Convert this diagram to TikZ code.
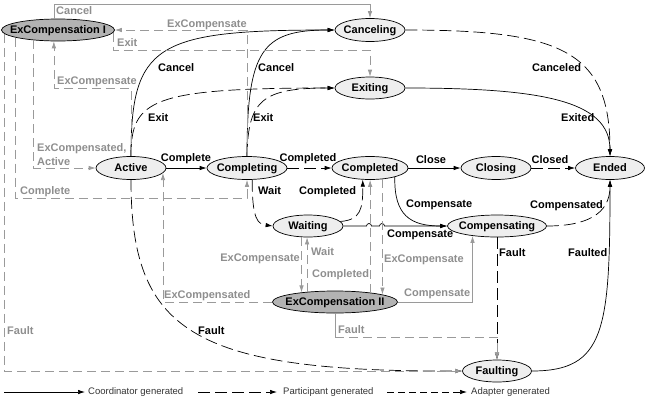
\documentclass[tikz,border=0pt]{standalone}
\usepackage{fontspec}
\setmainfont{Liberation Sans}
\usetikzlibrary{arrows.meta,shapes.geometric}
\definecolor{gr}{HTML}{9A9A9A}
\definecolor{grtext}{HTML}{8E8E8E}
\definecolor{stfill}{HTML}{EEEEEE}
\definecolor{exfill}{HTML}{B3B3B3}
\definecolor{legtext}{HTML}{333333}
\newcommand{\stxt}[1]{\makebox[0pt]{#1}}
\begin{document}
\begin{tikzpicture}[x=1pt,y=-1pt,
 state/.style={ellipse, draw=black, line width=0.7pt, fill=stfill, inner sep=0pt,
   minimum height=23pt, text height=8pt, text depth=2pt, font=\bfseries\fontsize{11}{13}\selectfont},
 exstate/.style={state, fill=exfill},
 lbl/.style={font=\bfseries\fontsize{11}{13}\selectfont, inner sep=0pt, text height=8pt, text depth=2pt},
 glbl/.style={lbl, text=grtext},
 leg/.style={font=\fontsize{9.5}{11}\selectfont, inner sep=0pt, text=legtext, anchor=west},
 coord/.style={line width=0.7pt, -{Latex[length=7pt,width=4.5pt]}},
 part/.style={coord, dash pattern=on 12pt off 5pt},
 adapt/.style={coord, dash pattern=on 7pt off 4pt},
 gline/.style={draw=gr, line width=0.7pt},
 garrow/.style={gline, -{Latex[length=7pt,width=4.5pt]}, gr},
 gdash/.style={dash pattern=on 9pt off 5pt},
]
\useasboundingbox (0,0) rectangle (647,402);

% states
\node[exstate, minimum width=113pt, minimum height=22pt] (exI) at (58,30) {\stxt{ExCompensation I}};
\node[state, minimum width=70pt] (canceling) at (370,30) {\stxt{Canceling}};
\node[state, minimum width=70pt, minimum height=22pt] (exiting) at (370,88) {\stxt{Exiting}};
\node[state, minimum width=70pt] (active) at (131,168) {\stxt{Active}};
\node[state, minimum width=80pt] (completing) at (247,168) {\stxt{Completing}};
\node[state, minimum width=76pt] (completed) at (370,168) {\stxt{Completed}};
\node[state, minimum width=70pt] (closing) at (496,168) {\stxt{Closing}};
\node[state, minimum width=69pt] (ended) at (610,168) {\stxt{Ended}};
\node[state, minimum width=70pt, minimum height=22pt] (waiting) at (308,226) {\stxt{Waiting}};
\node[state, minimum width=99pt, minimum height=22pt] (compensating) at (497,226) {\stxt{Compensating}};
\node[exstate, minimum width=125pt, minimum height=22pt] (exII) at (335,302) {\stxt{ExCompensation II}};
\node[state, minimum width=69pt, minimum height=22pt] (faulting) at (497,371) {\stxt{Faulting}};

% coordinator / participant transitions
\draw[coord] (active.east) -- (completing.west);
\node[lbl] (lcomplete) at (186,158) {Complete};
\draw[part] (completing.east) -- (completed.west);
\node[lbl] (lcompleted) at (308,158) {Completed};
\draw[coord] (completed.east) -- (closing.west);
\node[lbl] (lclose) at (431,160) {Close};
\draw[part] (closing.east) -- (ended.west);
\node[lbl] (lclosed) at (550,160) {Closed};

\draw[coord] (active.north) .. controls (131,45) and (155,30) .. (canceling.west);
\node[lbl, anchor=west] (lcancel1) at (158,68) {Cancel};
\draw[coord] (completing.north) .. controls (247,50) and (262,30) .. (canceling.west);
\node[lbl, anchor=west] (lcancel2) at (258,68) {Cancel};
\draw[part] (active.north) .. controls (131,100) and (150,88) .. (exiting.west);
\node[lbl, anchor=west] (lexit1) at (148,118) {Exit};
\draw[part] (completing.north) .. controls (248,100) and (262,88) .. (exiting.west);
\node[lbl, anchor=west] (lexit2) at (253,118) {Exit};
\draw[part] (canceling.east) .. controls (560,30) and (610,50) .. (ended.north);
\node[lbl, anchor=west] (lcanceled) at (532,68) {Canceled};
\draw[coord] (exiting.east) .. controls (540,88) and (610,100) .. (ended.north);
\node[lbl, anchor=west] (lexited) at (561,118) {Exited};

\draw[part] (completing.-66) .. controls (252,220) and (258,224) .. (waiting.west);
\node[lbl, anchor=west] (lwait) at (258,191) {Wait};
\draw[part] (waiting.8) .. controls (360,220) and (363,210) .. (completed.238);
\node[lbl, anchor=west] (lcompleted2) at (299,191) {Completed};
\draw[coord] (completed.-20) .. controls (394,215) and (410,226) .. (compensating.west);
\node[lbl, anchor=west] (lcompensate1) at (406,204) {Compensate};
\draw[coord] (waiting.east) -- (366.5,226) arc[start angle=180, end angle=0, radius=2.5pt]
  -- (379.5,226) arc[start angle=180, end angle=0, radius=2.5pt] -- (compensating.west);
\node[lbl, anchor=west] (lcompensate2) at (387,234) {Compensate};
\draw[part] (compensating.east) .. controls (585,226) and (610,215) .. (ended.south);
\node[lbl, anchor=west] (lcompensated) at (530,205) {Compensated};
\draw[coord] (faulting.east) .. controls (605,371) and (610,330) .. (ended.south);
\node[lbl, anchor=west] (lfaulted) at (568,253) {Faulted};
\draw[part] (compensating.south) -- (faulting.north);
\node[lbl, anchor=west] (lfault1) at (499,253) {Fault};
\draw[part] (active.south) .. controls (131,330) and (190,372) .. (faulting.west);
\node[lbl, anchor=west] (lfault2) at (198,331) {Fault};

% adapter (grey) transitions
\draw[garrow] (exI.110) -- (exI.110 |- 0,4) -- (canceling.north |- 0,4) -- (canceling.north);
\node[glbl, anchor=west] (gcancel) at (56,11) {Cancel};
\draw[garrow, gdash] (completing.north) -- (completing.north |- 0,30) -- (exI.east);
\node[glbl, anchor=west] (gexc1) at (167,24) {ExCompensate};
\draw[garrow, gdash] (exI.-3) -- (exI.-3 |- 0,50) -- (exiting.north |- 0,50) -- (exiting.north);
\node[glbl, anchor=west] (gexit) at (117,43) {Exit};
\draw[garrow, gdash] (active.north) -- (active.north |- 0,88) -- (exI.250 |- 0,88) -- (exI.250);
\node[glbl, anchor=west] (gexc2) at (57,81) {ExCompensate};
\draw[garrow, gdash] (exI.203) -- (exI.203 |- active.west) -- (active.west);
\node[glbl, anchor=west] (gexcd1) at (37,148) {ExCompensated,};
\node[glbl, anchor=west] (gact) at (37,162) {Active};
\draw[garrow, gdash] (exI.190) -- (exI.190 |- 0,198) -- (completing.south |- 0,198) -- (completing.south);
\node[glbl, anchor=west] (gcomplete) at (20,191) {Complete};
\draw[garrow, gdash] (exI.184) -- (exI.184 |- faulting.west) -- (faulting.west);
\node[glbl, anchor=west] (gfault1) at (7,331) {Fault};
\draw[garrow, gdash] (exII.west) -- (exII.west -| active.-9) -- (active.-9);
\node[glbl, anchor=west] (gexcd2) at (164,295) {ExCompensated};
\draw[garrow, gdash] (waiting.south -| exII.164) -- (exII.164);
\node[glbl, anchor=east] (gexc3) at (300,258) {ExCompensate};
\draw[garrow, gdash] (exII.160) -- (exII.160 |- waiting.south);
\node[glbl, anchor=west] (gwait) at (311,252) {Wait};
\draw[garrow, gdash] (exII.15) -- (exII.15 |- completed.south);
\node[glbl, anchor=west] (gcompleted) at (312,274) {Completed};
\draw[garrow, gdash] (completed.-42) -- (completed.-42 |- exII.9);
\node[glbl, anchor=west] (gexc4) at (384,259) {ExCompensate};
\draw[garrow] (exII.east) -- (exII.east -| compensating.202) -- (compensating.202);
\node[glbl, anchor=west] (gcompensate) at (404,293) {Compensate};
\draw[gline] (exII.south) -- ++(0,24) coordinate (fcorner);
\draw[garrow, gdash] (fcorner) -- (fcorner -| faulting.north) -- (faulting.north);
\node[glbl, anchor=west] (gfault2) at (338,330) {Fault};

% legend
\coordinate (la1) at (4,392); \coordinate (lb1) at (85,392);
\coordinate (la2) at (198,392); \coordinate (lb2) at (277,392);
\coordinate (la3) at (387,392); \coordinate (lb3) at (467,392);
\draw[coord] (la1) -- (lb1);
\node[leg] (leg1) at (88,392) {Coordinator generated};
\draw[part] (la2) -- (lb2);
\node[leg] (leg2) at (283,392) {Participant generated};
\draw[adapt] (la3) -- (lb3);
\node[leg] (leg3) at (471,392) {Adapter generated};
\end{tikzpicture}
\end{document}
